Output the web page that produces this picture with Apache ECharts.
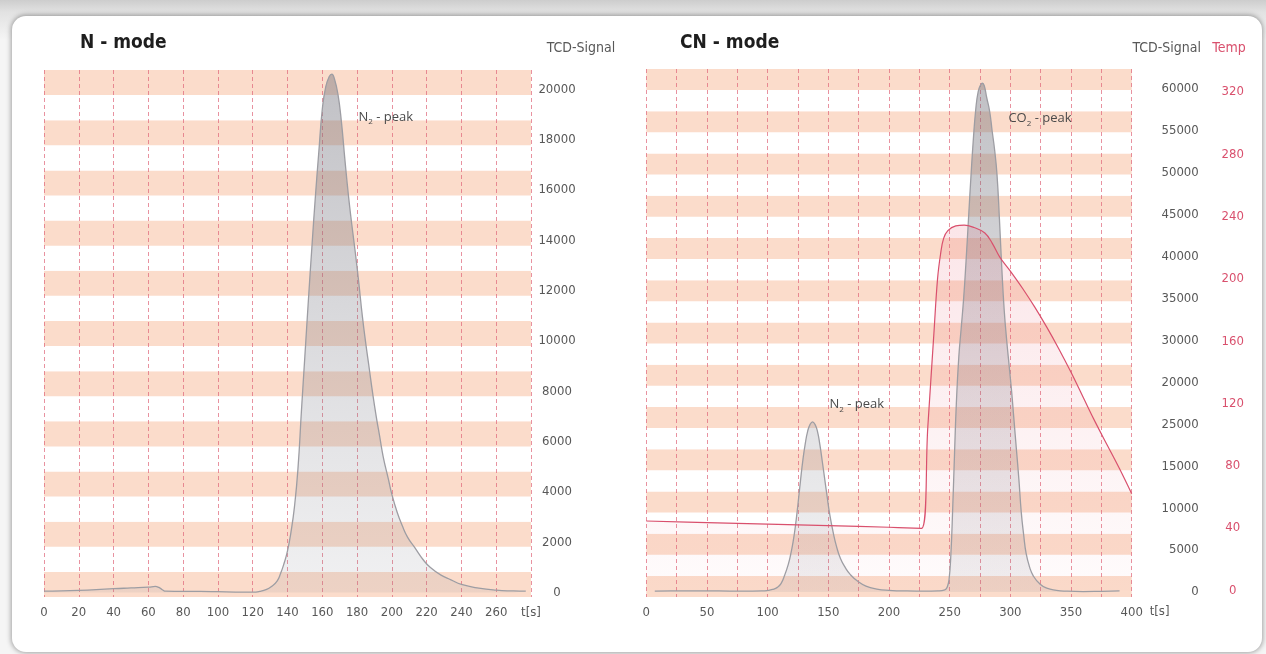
<!DOCTYPE html>
<html>
<head>
<meta charset="utf-8">
<title>N - mode / CN - mode</title>
<script src="https://cdn.jsdelivr.net/npm/echarts@6/dist/echarts.min.js"></script>
<style>
html, body { margin: 0; padding: 0; width: 1266px; height: 654px; overflow: hidden;
  background: linear-gradient(#cdcdcd 0px, #e2e2e2 12px, #f5f5f5 40px, #f5f5f5 100%); }
#panel { position: absolute; left: 12px; top: 16px; width: 1250px; height: 636px; background: #fff;
  border-radius: 14px; box-shadow: 0 0 5px 1px rgba(0,0,0,0.35); }
#chart { position: absolute; left: 0; top: 0; width: 1266px; height: 654px; }
</style>
</head>
<body>
<div id="panel"></div>
<div id="chart"></div>
<script type="text/javascript">
// N-mode: TCD signal over time
var nTime   = [0, 10, 20, 30, 40, 50, 60, 64, 66, 68, 70, 80, 90, 100, 110, 120, 124, 128, 131, 134, 136, 138, 140, 142, 144, 146, 148, 150, 152, 154, 156, 158, 160, 162, 164, 165.5, 167, 169, 171, 173, 175, 177, 179, 181, 183, 185, 187, 189, 191, 193, 195, 198, 200, 203, 206, 209, 213, 218, 222, 228, 234, 240, 250, 260, 270, 277];
var nSignal = [50, 60, 80, 110, 150, 180, 210, 240, 200, 110, 50, 40, 40, 30, 15, 10, 40, 120, 250, 450, 750, 1150, 1650, 2400, 3400, 4900, 7200, 9400, 11600, 13700, 15700, 17500, 19200, 20100, 20500, 20600, 20400, 19800, 18700, 17200, 15800, 14600, 13500, 12300, 11000, 9900, 8900, 7900, 7000, 6200, 5400, 4500, 3900, 3200, 2650, 2200, 1800, 1300, 1000, 700, 500, 320, 170, 90, 60, 50];

// CN-mode: TCD signal over time
var cnTime   = [7, 20, 40, 60, 80, 95, 100, 104, 108, 111, 114, 117, 119, 121, 123, 125, 127, 129, 131, 133, 135, 137, 139, 141, 143, 145, 147, 149, 151, 154, 157, 160, 164, 168, 174, 181, 190, 200, 215, 230, 240, 246, 248, 249.5, 251, 252.5, 254, 255.5, 257.5, 259.5, 261.5, 263.5, 265.5, 267.5, 269.5, 271.5, 273.5, 275.5, 277, 278.5, 280.5, 283, 285, 287, 289, 291, 293, 295, 297, 299, 301, 303, 305, 307, 309, 311, 313, 316, 319, 324, 330, 338, 346, 360, 375, 390];
var cnSignal = [100, 120, 130, 120, 100, 120, 180, 300, 550, 1000, 2000, 3300, 4500, 6000, 8000, 10500, 13200, 15700, 17700, 19200, 20000, 20300, 20000, 19200, 17600, 15600, 13500, 11400, 9400, 7100, 5300, 4000, 2900, 2100, 1300, 700, 350, 200, 120, 100, 130, 250, 600, 1500, 4500, 10000, 16500, 22500, 28000, 31500, 35000, 39500, 44500, 49500, 54000, 57600, 59700, 60500, 60700, 60400, 59000, 57300, 55000, 52800, 49800, 44500, 38500, 33500, 30000, 27000, 24000, 20500, 17000, 13500, 9500, 6800, 4600, 2900, 1900, 1000, 450, 200, 100, 50, 80, 120];

// CN-mode: temperature over time
var tempTime  = [0, 50, 100, 150, 200, 226.8, 232, 237, 240, 242.5, 245, 248.5, 255, 262, 270, 279, 285, 291.3, 300, 310, 320, 330, 340, 350, 360, 370, 380, 390, 400];
var tempValue = [44.5, 43.5, 42.5, 41.5, 40.5, 39.8, 105, 165, 200, 216, 226, 231, 234, 234.5, 233, 229.5, 223, 214, 205, 194, 182, 169, 155, 140, 124, 108, 93, 78, 62];

// tick labels
var nTicks = [0, 2000, 4000, 6000, 8000, 10000, 12000, 14000, 16000, 18000, 20000];
var cnTicks = [0, 5000, 10000, 15000, 20000, 25000, 30000, 35000, 40000, 45000, 50000, 55000, 60000];
var cnTickLabels = ['0', '5000', '10000', '15000', '25000', '20000', '30000', '35000', '40000', '45000', '50000', '55000', '60000'];
var tempTicks = [0, 40, 80, 120, 160, 200, 240, 280, 320];
var cnTimeTicks = [0, 50, 100, 150, 200, 250, 300, 350, 400];

function pairs(xs, ys) {
    return xs.map(function (x, i) { return [x, ys[i]]; });
}

var FONT = '"DejaVu Sans Condensed", "DejaVu Sans", Roboto, sans-serif';
var NOTE_FONT = '"Open Sans", "Noto Sans", sans-serif';
var labelColor = '#585858';
var tempColor = '#d9506d';

var dashLine = { show: true, lineStyle: { color: 'rgba(222,100,120,0.7)', type: [4, 3], width: 1 } };
var stripes = { show: true, areaStyle: { color: ['#fbdccb', '#ffffff'] } };

var signalArea = {
    color: new echarts.graphic.LinearGradient(0, 0, 0, 1, [
        { offset: 0, color: 'rgba(110,110,120,0.62)' },
        { offset: 1, color: 'rgba(140,140,150,0.18)' }
    ])
};
var tempArea = {
    color: new echarts.graphic.LinearGradient(0, 0, 0, 1, [
        { offset: 0, color: 'rgba(230,90,110,0.22)' },
        { offset: 1, color: 'rgba(230,90,110,0.03)' }
    ])
};

var peakRich = {
    n: { fontFamily: NOTE_FONT, fontSize: 13, color: '#4a4a4a', lineHeight: 18 },
    s: { fontFamily: NOTE_FONT, fontSize: 8, color: '#4a4a4a', lineHeight: 8, verticalAlign: 'bottom' }
};
function peakNote(coord, name, sub) {
    return {
        coord: coord,
        symbol: 'rect', symbolSize: 1,
        itemStyle: { color: 'rgba(0,0,0,0)' },
        label: {
            show: true, position: 'right', distance: 0,
            formatter: '{n|' + name + '}{s|' + sub + '}{n| - peak}',
            rich: peakRich
        }
    };
}
function plain(v) { return String(v); }

var chart = echarts.init(document.getElementById('chart'));

var option = {
    animation: false,
    backgroundColor: 'transparent',
    title: [
        { text: 'N - mode', left: 80, top: 34, padding: 0,
          textStyle: { fontFamily: FONT, fontSize: 19, fontWeight: 'bold', color: '#1e1e1e' } },
        { text: 'CN - mode', left: 680, top: 34, padding: 0,
          textStyle: { fontFamily: FONT, fontSize: 19, fontWeight: 'bold', color: '#1e1e1e' } }
    ],
    graphic: [
        { type: 'text', x: 581, y: 48, style: { text: 'TCD-Signal', font: '14px ' + FONT, fill: labelColor,
          align: 'center', verticalAlign: 'middle', textAlign: 'center', textVerticalAlign: 'middle' } },
        { type: 'text', x: 1201, y: 48, style: { text: 'TCD-Signal', font: '14px ' + FONT, fill: labelColor,
          align: 'right', verticalAlign: 'middle', textAlign: 'right', textVerticalAlign: 'middle' } },
        { type: 'text', x: 1229, y: 48, style: { text: 'Temp', font: '14px ' + FONT, fill: tempColor,
          align: 'center', verticalAlign: 'middle', textAlign: 'center', textVerticalAlign: 'middle' } }
    ],
    grid: [
        { left: 44, top: 70, width: 487, height: 527, outerBoundsMode: 'none' },
        { left: 646.3, top: 69, width: 485.4, height: 528, outerBoundsMode: 'none' }
    ],
    xAxis: [
        {
            type: 'value', gridIndex: 0, min: 0, max: 280, interval: 20,
            axisLine: { show: false }, axisTick: { show: false },
            splitLine: dashLine,
            axisLabel: {
                margin: 9, fontFamily: FONT, fontSize: 13, color: labelColor,
                showMinLabel: true, showMaxLabel: true,
                formatter: function (v) { return v === 280 ? 't[s]' : String(v); }
            }
        },
        {
            type: 'value', gridIndex: 1, min: 0, max: 400, interval: 25,
            axisLine: { show: false }, axisTick: { show: false },
            splitLine: dashLine,
            axisLabel: { margin: 9, fontFamily: FONT, fontSize: 13, color: labelColor, customValues: cnTimeTicks, formatter: plain },
            name: 't[s]', nameLocation: 'end', nameGap: 18,
            nameTextStyle: { fontFamily: FONT, fontSize: 13, color: labelColor, verticalAlign: 'top', padding: [13, 0, 0, 0] }
        }
    ],
    yAxis: [
        {   // 0: N-mode TCD
            type: 'value', gridIndex: 0, position: 'right', min: -180, max: 20760,
            axisLine: { show: false }, axisTick: { show: false }, splitLine: { show: false },
            axisLabel: { customValues: nTicks, align: 'center', margin: 26, fontFamily: FONT, fontSize: 13, color: labelColor, formatter: plain }
        },
        {   // 1: N-mode stripes
            type: 'value', gridIndex: 0, position: 'left', min: 0, max: 21, interval: 1, z: -1,
            axisLine: { show: false }, axisTick: { show: false }, splitLine: { show: false },
            axisLabel: { show: false }, splitArea: stripes
        },
        {   // 2: CN-mode TCD
            type: 'value', gridIndex: 1, position: 'right', min: -600, max: 62400,
            axisLine: { show: false }, axisTick: { show: false }, splitLine: { show: false },
            axisLabel: {
                customValues: cnTicks, align: 'right', margin: 67, fontFamily: FONT, fontSize: 13, color: labelColor,
                formatter: function (v) { return cnTickLabels[Math.round(v / 5000)]; }
            }
        },
        {   // 3: CN-mode temperature
            type: 'value', gridIndex: 1, position: 'right', min: -4.3, max: 334.8,
            axisLine: { show: false }, axisTick: { show: false }, splitLine: { show: false },
            axisLabel: { customValues: tempTicks, align: 'center', margin: 101, fontFamily: FONT, fontSize: 13, color: tempColor, formatter: plain }
        },
        {   // 4: CN-mode stripes
            type: 'value', gridIndex: 1, position: 'left', min: 0, max: 25, interval: 1, z: -1,
            axisLine: { show: false }, axisTick: { show: false }, splitLine: { show: false },
            axisLabel: { show: false }, splitArea: stripes
        }
    ],
    series: [
        {
            name: 'N-mode TCD', type: 'line', xAxisIndex: 0, yAxisIndex: 0,
            data: pairs(nTime, nSignal),
            smooth: 0.5, showSymbol: false,
            lineStyle: { color: '#9d9da3', width: 1.3 },
            areaStyle: signalArea,
            markPoint: { silent: true, data: [peakNote([180.5, 18890], 'N', '2')] }
        },
        {
            name: 'CN-mode TCD', type: 'line', xAxisIndex: 1, yAxisIndex: 2,
            data: pairs(cnTime, cnSignal),
            smooth: 0.5, showSymbol: false,
            lineStyle: { color: '#9d9da3', width: 1.3 },
            areaStyle: signalArea,
            markPoint: { silent: true, data: [
                peakNote([298, 56470], 'CO', '2'),
                peakNote([150.6, 22350], 'N', '2')
            ] }
        },
        {
            name: 'Temp', type: 'line', xAxisIndex: 1, yAxisIndex: 3,
            data: pairs(tempTime, tempValue),
            smooth: 0.4, showSymbol: false,
            lineStyle: { color: tempColor, width: 1.2 },
            areaStyle: tempArea
        }
    ]
};

chart.setOption(option);
</script>
</body>
</html>
